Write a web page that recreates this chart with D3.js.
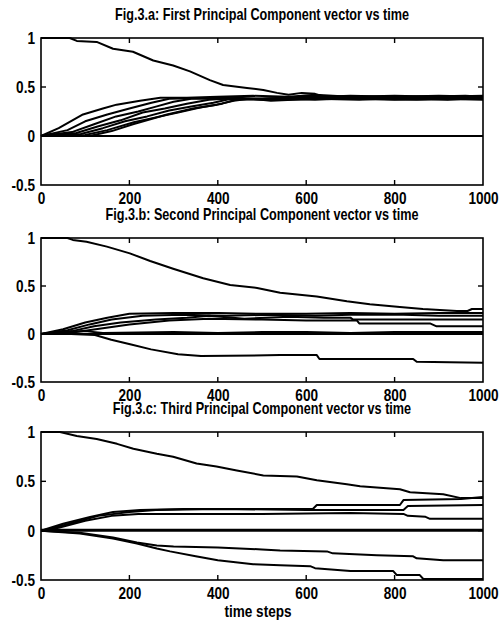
<!DOCTYPE html>
<html>
<head>
<meta charset="utf-8">
<script src="https://cdn.jsdelivr.net/npm/d3@7"></script>
<style>
  body { margin: 0; background: #fff; }
  svg { display: block; }
  text {
    font-family: "Liberation Sans", Arial, Helvetica, sans-serif;
    fill: #000;
  }
</style>
</head>
<body>
<div id="chart"></div>
<script>
// axis ticks
const timeTicks = [0, 200, 400, 600, 800, 1000];
const valueTicks = [-0.5, 0, 0.5, 1];
const innerTimeTicks = [200, 400, 600, 800];
const innerValueTicks = [0, 0.5];

const titles = [
  "Fig.3.a: First Principal Component vector vs time",
  "Fig.3.b: Second Principal Component vector vs time",
  "Fig.3.c: Third Principal Component vector vs time",
];
const xLabel = "time steps";

// Fig.3.a  [time step, component value]
const pc1Series = [
  [[0,1],[65,1],[81,0.97],[126,0.96],[163,0.89],[208,0.86],[254,0.77],[299,0.72],[337,0.66],[382,0.57],[412,0.52],[466,0.49],[503,0.47],[534,0.44],[560,0.42],[590,0.44],[620,0.43],[640,0.40],[700,0.41],[800,0.40],[900,0.41],[1000,0.40]],
  [[0,0],[40,0.08],[95,0.22],[140,0.28],[171,0.32],[224,0.36],[270,0.39],[330,0.39],[400,0.40],[480,0.41],[560,0.40],[620,0.42],[700,0.40],[800,0.41],[900,0.40],[1000,0.41]],
  [[0,0],[60,0.06],[100,0.15],[150,0.22],[200,0.28],[250,0.34],[290,0.38],[400,0.39],[500,0.38],[600,0.40],[700,0.39],[800,0.38],[900,0.39],[1000,0.40]],
  [[0,0],[70,0.04],[120,0.12],[170,0.20],[220,0.25],[260,0.30],[300,0.35],[340,0.38],[450,0.38],[550,0.37],[650,0.39],[750,0.38],[850,0.37],[1000,0.38]],
  [[0,0],[80,0.03],[130,0.10],[180,0.16],[230,0.24],[280,0.28],[330,0.33],[380,0.37],[450,0.39],[520,0.36],[620,0.38],[720,0.37],[820,0.39],[920,0.37],[1000,0.39]],
  [[0,0],[90,0.02],[140,0.08],[190,0.15],[240,0.20],[290,0.26],[340,0.30],[390,0.34],[430,0.38],[500,0.37],[600,0.40],[700,0.38],[800,0.37],[900,0.38],[1000,0.37]],
  [[0,0],[100,0.01],[150,0.06],[210,0.14],[260,0.19],[310,0.24],[360,0.29],[410,0.33],[440,0.37],[520,0.38],[620,0.37],[720,0.39],[820,0.38],[920,0.39],[1000,0.38]],
  [[0,0],[110,0],[160,0.05],[208,0.12],[285,0.22],[344,0.28],[398,0.32],[436,0.36],[470,0.38],[560,0.39],[660,0.40],[760,0.39],[860,0.40],[960,0.41],[1000,0.40]],
  [[0,0],[1000,0]],
];

// Fig.3.b
const pc2Series = [
  [[0,1],[60,1],[72,0.98],[103,0.96],[149,0.91],[201,0.84],[247,0.76],[299,0.68],[367,0.58],[428,0.51],[489,0.48],[541,0.43],[624,0.39],[692,0.34],[744,0.31],[812,0.28],[864,0.26],[941,0.24],[965,0.24],[975,0.26],[1000,0.26]],
  [[0,0],[50,0.05],[100,0.12],[150,0.17],[200,0.21],[300,0.22],[400,0.22],[500,0.21],[600,0.21],[700,0.22],[800,0.21],[900,0.22],[1000,0.22]],
  [[0,0],[60,0.04],[110,0.10],[160,0.15],[230,0.19],[320,0.20],[420,0.19],[520,0.20],[620,0.19],[700,0.20],[820,0.20],[900,0.19],[1000,0.19]],
  [[0,0],[70,0.03],[120,0.08],[180,0.12],[260,0.15],[330,0.17],[380,0.19],[460,0.16],[560,0.18],[640,0.17],[700,0.17],[706,0.15],[800,0.15],[1000,0.15]],
  [[0,0],[80,0.02],[140,0.06],[200,0.10],[290,0.14],[380,0.16],[500,0.15],[600,0.14],[715,0.14],[720,0.11],[880,0.11],[895,0.08],[1000,0.08]],
  [[0,0],[1000,0]],
  [[0,0],[60,0.02],[100,0.03],[140,0.01],[300,0.02],[400,0.01],[500,0.02],[600,0.02],[700,0.01],[800,0.02],[1000,0.02]],
  [[0,0],[68,0],[122,-0.01],[159,-0.06],[204,-0.11],[249,-0.16],[310,-0.21],[362,-0.23],[541,-0.22],[624,-0.22],[630,-0.26],[842,-0.26],[850,-0.29],[1000,-0.30]],
];

// Fig.3.c
const pc3Series = [
  [[0,1],[43,1],[81,0.96],[126,0.93],[172,0.88],[209,0.83],[262,0.78],[299,0.75],[352,0.68],[397,0.65],[443,0.61],[503,0.56],[579,0.55],[624,0.51],[692,0.47],[722,0.45],[812,0.42],[835,0.39],[910,0.37],[950,0.33],[1000,0.33]],
  [[0,0],[14,0.02],[50,0.07],[111,0.14],[163,0.19],[224,0.21],[322,0.22],[450,0.22],[615,0.22],[624,0.26],[812,0.26],[820,0.31],[950,0.32],[1000,0.34]],
  [[0,0],[30,0.03],[80,0.09],[130,0.15],[200,0.19],[260,0.21],[400,0.22],[600,0.21],[820,0.21],[830,0.25],[1000,0.26]],
  [[0,0],[40,0.03],[100,0.10],[160,0.15],[220,0.17],[322,0.17],[500,0.17],[700,0.18],[820,0.17],[830,0.15],[870,0.14],[880,0.12],[1000,0.12]],
  [[0,0],[1000,0]],
  [[0,0.01],[1000,0.01]],
  [[0,0],[88,-0.02],[163,-0.07],[217,-0.12],[262,-0.15],[300,-0.16],[400,-0.17],[500,-0.19],[541,-0.20],[647,-0.21],[660,-0.23],[760,-0.25],[842,-0.26],[850,-0.28],[910,-0.30],[1000,-0.30]],
  [[0,0],[88,-0.03],[163,-0.08],[217,-0.13],[262,-0.18],[292,-0.21],[350,-0.26],[400,-0.30],[480,-0.34],[541,-0.35],[609,-0.36],[620,-0.38],[700,-0.41],[797,-0.41],[805,-0.45],[857,-0.45],[865,-0.49],[1000,-0.49]],
];

const allSeries = [pc1Series, pc2Series, pc3Series];

const width = 504;
const height = 624;
const margin = { left: 41, right: 21 };
const panelTops = [38, 238, 432];
const panelBottoms = [185, 382, 580];
const squeeze = "scale(0.8,1)";

const svg = d3
  .select("#chart")
  .append("svg")
  .attr("width", width)
  .attr("height", height)
  .attr("viewBox", [0, 0, width, height]);

const x = d3.scaleLinear().domain([0, 1000]).range([margin.left, width - margin.right]);
const cx = (margin.left + width - margin.right) / 2;

const line = d3.line();

allSeries.forEach((series, i) => {
  const top = panelTops[i];
  const bottom = panelBottoms[i];
  const y = d3.scaleLinear().domain([-0.5, 1]).range([bottom, top]);
  line.x((d) => x(d[0])).y((d) => y(d[1]));

  const g = svg.append("g").attr("class", "panel");

  g.append("g")
    .attr("class", "lines")
    .selectAll("path")
    .data(series)
    .join("path")
    .attr("d", line)
    .attr("fill", "none")
    .attr("stroke", "#000")
    .attr("stroke-width", 2)
    .attr("stroke-linejoin", "round");

  g.append("rect")
    .attr("x", margin.left)
    .attr("y", top)
    .attr("width", width - margin.right - margin.left)
    .attr("height", bottom - top)
    .attr("fill", "none")
    .attr("stroke", "#000")
    .attr("stroke-width", 1.6);

  g.append("g")
    .attr("transform", `translate(${cx},${top - 18})`)
    .append("text")
    .attr("class", "title")
    .attr("transform", "scale(0.79,1)")
    .attr("text-anchor", "middle")
    .attr("font-size", 16)
    .attr("font-weight", "bold")
    .text(titles[i]);

  // bottom axis with labels
  g.append("g")
    .attr("class", "axis axis--x")
    .attr("transform", `translate(0,${bottom})`)
    .call(d3.axisBottom(x).tickValues(timeTicks).tickSize(0).tickPadding(7).tickFormat((d) => String(d)))
    .call((a) => a.select(".domain").remove())
    .call((a) =>
      a.selectAll(".tick text")
        .attr("font-size", 17)
        .attr("font-weight", "bold")
        .attr("transform", squeeze)
    );

  // inward tick marks on all sides
  const tickG = g.append("g").attr("stroke", "#000").attr("stroke-width", 1.4);
  tickG.selectAll(".tick-b")
    .data(innerTimeTicks)
    .join((enter) => enter.append("line").attr("class", "tick-b"))
    .attr("x1", (d) => x(d)).attr("x2", (d) => x(d))
    .attr("y1", bottom).attr("y2", bottom - 5);
  tickG.selectAll(".tick-t")
    .data(innerTimeTicks)
    .join((enter) => enter.append("line").attr("class", "tick-t"))
    .attr("x1", (d) => x(d)).attr("x2", (d) => x(d))
    .attr("y1", top).attr("y2", top + 5);
  tickG.selectAll(".tick-lr")
    .data(innerValueTicks.flatMap((v) => [[margin.left, 5, v], [width - margin.right, -5, v]]))
    .join((enter) => enter.append("line").attr("class", "tick-lr"))
    .attr("x1", (d) => d[0]).attr("x2", (d) => d[0] + d[1])
    .attr("y1", (d) => y(d[2])).attr("y2", (d) => y(d[2]));

  g.append("g")
    .attr("class", "axis axis--y")
    .attr("transform", `translate(${margin.left - 6},0)`)
    .call(d3.axisLeft(y).tickValues(valueTicks).tickSize(0).tickPadding(0).tickFormat((d) => String(d)))
    .call((a) => a.select(".domain").remove())
    .call((a) =>
      a.selectAll(".tick text")
        .attr("font-size", 17)
        .attr("font-weight", "bold")
        .attr("transform", squeeze)
    );
});

svg.append("g")
  .attr("transform", `translate(${cx - 4},617)`)
  .append("text")
  .attr("transform", squeeze)
  .attr("text-anchor", "middle")
  .attr("font-size", 17)
  .attr("font-weight", "bold")
  .text(xLabel);
</script>
</body>
</html>
